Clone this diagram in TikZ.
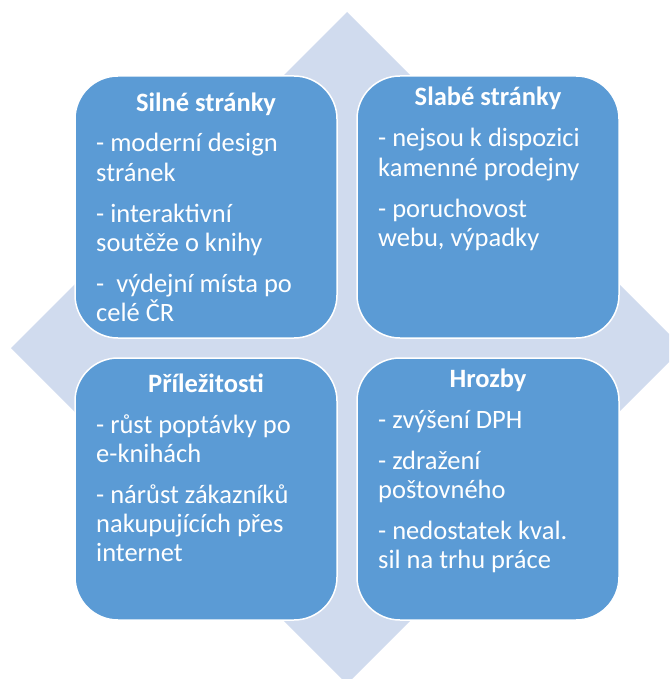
\documentclass[tikz,border=0pt]{standalone}
\usepackage{fontspec}
\setmainfont{Carlito}
\definecolor{quadblue}{HTML}{5B9BD5}
\definecolor{diamondbg}{HTML}{D0DBEE}
\newcommand{\quadfont}{\fontsize{26.5}{29}\selectfont}
\tikzset{
  quadbox/.style={fill=quadblue, draw=white, line width=1.5pt, rounded corners=43pt},
  headline/.style={anchor=base, inner sep=0pt, text=white, font=\quadfont\bfseries},
  bodyline/.style={anchor=base west, inner sep=0pt, text=white, font=\quadfont},
}
\begin{document}
\begin{tikzpicture}[x=1pt, y=-1pt]
  \useasboundingbox (0,0) rectangle (669,679);
  \clip (0,0) rectangle (669,679);
  % background diamond
  \fill[diamondbg] (347,12) -- (683,348) -- (347,684) -- (11,348) -- cycle;

  % four quadrants
  \draw[quadbox] (75,76) rectangle (337,338);
  \draw[quadbox] (357,76) rectangle (619,338);
  \draw[quadbox] (75,358) rectangle (337,620);
  \draw[quadbox] (357,358) rectangle (619,620);

  % strengths
  \node[headline] (sTitle) at (206,111.5) {Silné stránky};
  \node[bodyline] (s1) at (96,152) {- moderní design};
  \node[bodyline] (s2) at (96,181) {stránek};
  \node[bodyline] (s3) at (96,222) {- interaktivní};
  \node[bodyline] (s4) at (96,251) {soutěže o knihy};
  \node[bodyline] (s5) at (96,292) {-\ \ výdejní místa po};
  \node[bodyline] (s6) at (96,321) {celé ČR};

  % weaknesses
  \node[headline] (wTitle) at (488,106) {Slabé stránky};
  \node[bodyline] (w1) at (378,147) {- nejsou k dispozici};
  \node[bodyline] (w2) at (378,176) {kamenné prodejny};
  \node[bodyline] (w3) at (378,217) {- poruchovost};
  \node[bodyline] (w4) at (378,246) {webu, výpadky};

  % opportunities
  \node[headline] (oTitle) at (206,392) {Příležitosti};
  \node[bodyline] (o1) at (96,433) {- růst poptávky po};
  \node[bodyline] (o2) at (96,462) {e-knihách};
  \node[bodyline] (o3) at (96,503) {- nárůst zákazníků};
  \node[bodyline] (o4) at (96,532) {nakupujících přes};
  \node[bodyline] (o5) at (96,561) {internet};

  % threats
  \node[headline] (tTitle) at (488,387) {Hrozby};
  \node[bodyline] (t1) at (378,428) {- zvýšení DPH};
  \node[bodyline] (t2) at (378,469) {- zdražení};
  \node[bodyline] (t3) at (378,498) {poštovného};
  \node[bodyline] (t4) at (378,539) {- nedostatek kval.};
  \node[bodyline] (t5) at (378,568) {sil na trhu práce};
\end{tikzpicture}
\end{document}
